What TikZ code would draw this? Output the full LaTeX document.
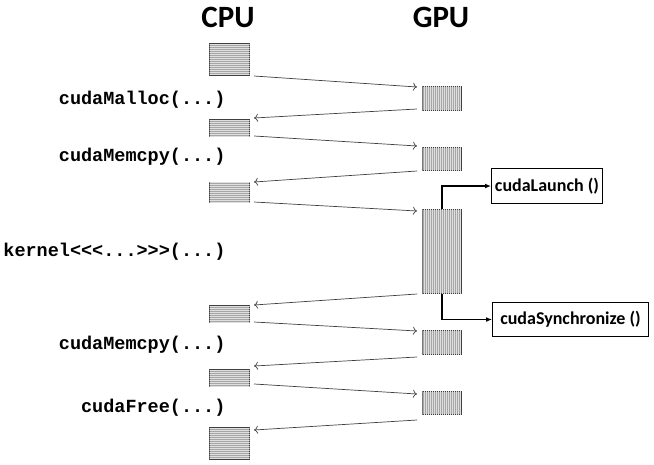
\documentclass[tikz,border=0pt]{standalone}
\usepackage{fontspec}
\setmainfont{Carlito}
\setmonofont{Liberation Mono}
\usetikzlibrary{patterns.meta,arrows.meta,positioning}

\tikzset{
    hostbuf/.style={draw=black!75, line width=1pt, fill=gray!70,
        anchor=north west, inner sep=0pt, minimum width=40pt,
        postaction={pattern={Lines[angle=0,distance=2pt,line width=0.7pt]},
            pattern color=gray!25}},
    devbuf/.style={draw=black!75, line width=1pt, fill=gray!70,
        anchor=north west, inner sep=0pt, minimum width=39pt,
        postaction={pattern={Lines[angle=90,distance=2pt,line width=0.7pt]},
            pattern color=gray!25}},
    call/.style={anchor=east, font=\ttfamily\bfseries\fontsize{18.5}{20}\selectfont},
    title/.style={font=\bfseries\fontsize{31}{33}\selectfont},
    copy/.style={-{To[length=4pt,width=8pt]}, draw=black!75, line width=0.7pt},
    ctrl/.style={-{Latex[length=6pt,width=5pt]}, line width=1.3pt},
    apibox/.style={draw, line width=1pt, anchor=north west, inner sep=2pt,
        font=\bfseries\fontsize{18}{20}\selectfont}
}

\begin{document}
\begin{tikzpicture}[x=1pt,y=-1pt]
        \useasboundingbox (0,0) rectangle (654,464);
        %% Titles
        \node[title] (cpu) at (228,17) {CPU};
        \node[title] (gpu) at (441,17) {GPU};
        %% Host buffers
        \node[hostbuf,minimum height=32pt] (c1) at (209,43) {};
        \node[hostbuf,minimum height=17pt] (c2) at (209,119) {};
        \node[hostbuf,minimum height=20pt] (c3) at (209,182) {};
        \node[hostbuf,minimum height=17pt] (c4) at (209,305) {};
        \node[hostbuf,minimum height=17pt] (c5) at (209,369) {};
        \node[hostbuf,minimum height=32pt] (c6) at (209,427) {};
        %% Device buffers
        \node[devbuf,minimum height=24pt] (g1) at (422,86) {};
        \node[devbuf,minimum height=23pt] (g2) at (422,147) {};
        \node[devbuf,minimum height=84pt] (g3) at (422,209) {};
        \node[devbuf,minimum height=24pt] (g4) at (422,330) {};
        \node[devbuf,minimum height=23pt] (g5) at (422,391) {};
        %% Calls
        \node[call] (malloc) at (229,100) {cudaMalloc(...)};
        \node[call] (memcpyA) at (229,157) {cudaMemcpy(...)};
        \node[call] (kernel) at (229,252) {kernel<<<...>>>(...)};
        \node[call] (memcpyB) at (229,345) {cudaMemcpy(...)};
        \node[call] (free) at (229,408) {cudaFree(...)};
        %% Transfers
        \draw[copy] ([xshift=4pt]c1.south east) -- ([xshift=-5pt,yshift=-1pt]g1.north west);
        \draw[copy] ([xshift=-5pt,yshift=2pt]g1.south west) -- ([xshift=4pt,yshift=1pt]c2.north east);
        \draw[copy] ([xshift=4pt,yshift=1pt]c2.south east) -- ([xshift=-5pt,yshift=1pt]g2.north west);
        \draw[copy] ([xshift=-5pt]g2.south west) -- ([xshift=4pt]c3.north east);
        \draw[copy] ([xshift=4pt,yshift=1pt]c3.south east) -- ([xshift=-5pt,yshift=-2pt]g3.north west);
        \draw[copy] ([xshift=-5pt]g3.south west) -- ([xshift=4pt]c4.north east);
        \draw[copy] ([xshift=4pt,yshift=1pt]c4.south east) -- ([xshift=-5pt,yshift=-1pt]g4.north west);
        \draw[copy] ([xshift=-5pt,yshift=-2pt]g4.south west) -- ([xshift=4pt,yshift=3pt]c5.north east);
        \draw[copy] ([xshift=4pt,yshift=3pt]c5.south east) -- ([xshift=-5pt,yshift=-3pt]g5.north west);
        \draw[copy] ([xshift=-5pt,yshift=-5pt]g5.south west) -- ([xshift=4pt,yshift=-3pt]c6.north east);
        %% Runtime calls
        \node[apibox,minimum width=111pt,minimum height=35pt] (launch) at (491,168) {cudaLaunch ()};
        \node[apibox,minimum width=156pt,minimum height=34pt] (sync) at (492,302) {cudaSynchronize ()};
        \draw[ctrl] (g3.north) |- (launch.west);
        \draw[ctrl] (g3.south) |- (sync.west);
    \end{tikzpicture}
\end{document}
